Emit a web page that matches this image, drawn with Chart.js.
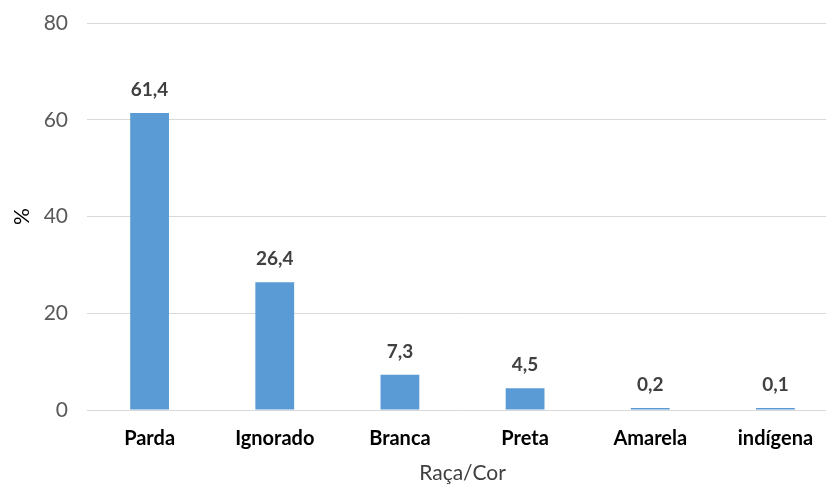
<!DOCTYPE html>
<html>
<head>
<meta charset="utf-8">
<script src="https://cdn.jsdelivr.net/npm/chart.js@4"></script>
<style>
  html, body { margin: 0; padding: 0; background: #ffffff; overflow: hidden; }
  #wrap { width: 838px; height: 486px; }
</style>
</head>
<body>
<div id="wrap"><canvas id="chart" width="838" height="486"></canvas></div>
<script>
// Distribuição por raça/cor (%)
const categories = ['Parda', 'Ignorado', 'Branca', 'Preta', 'Amarela', 'indígena'];
const percentages = [61.4, 26.4, 7.3, 4.5, 0.2, 0.1];
const yTicks = [0, 20, 40, 60, 80];

const FONT = 'Lato, "Open Sans", "Liberation Sans", sans-serif';

// Value labels above each bar, written with a decimal comma
const valueLabels = {
  id: 'valueLabels',
  afterDatasetsDraw(chart) {
    const ctx = chart.ctx;
    const meta = chart.getDatasetMeta(0);
    ctx.save();
    ctx.font = 'bold 19px ' + FONT;
    ctx.fillStyle = '#404040';
    ctx.textAlign = 'center';
    ctx.textBaseline = 'middle';
    meta.data.forEach((bar, i) => {
      const v = chart.data.datasets[0].data[i];
      ctx.fillText(v.toFixed(1).replace('.', ','), bar.x, bar.y - 23);
    });
    ctx.restore();
  }
};

new Chart(document.getElementById('chart'), {
  type: 'bar',
  data: {
    labels: categories,
    datasets: [{
      data: percentages,
      backgroundColor: '#5B9BD5',
      borderWidth: 0,
      minBarLength: 2,
      barPercentage: 0.31,
      categoryPercentage: 1.0
    }]
  },
  options: {
    responsive: false,
    animation: false,
    layout: { padding: { top: 23, left: 0, right: 0, bottom: 0 } },
    plugins: {
      legend: { display: false },
      tooltip: { enabled: false }
    },
    scales: {
      x: {
        grid: { display: false, drawTicks: false },
        border: { display: false },
        ticks: {
          color: '#000000',
          padding: 17,
          font: { family: FONT, size: 20, weight: 'bold' }
        },
        title: {
          display: true,
          text: 'Raça/Cor',
          color: '#404040',
          padding: { top: 0, bottom: 0 },
          font: { family: FONT, size: 21 }
        },
        afterFit: s => { s.height = 76; s.paddingLeft = 0; s.paddingRight = 0; }
      },
      y: {
        min: 0,
        max: 80,
        afterBuildTicks: s => { s.ticks = yTicks.map(v => ({ value: v })); },
        grid: { color: '#d9d9d9', lineWidth: 1, drawTicks: false },
        border: { display: false },
        ticks: {
          color: '#595959',
          padding: 19,
          font: { family: FONT, size: 21 }
        },
        title: {
          display: true,
          text: '%',
          color: '#000000',
          padding: { top: 10, bottom: 0 },
          font: { family: FONT, size: 21 }
        },
        afterFit: s => { s.width = 87; s.paddingTop = 0; s.paddingBottom = 0; }
      }
    }
  },
  plugins: [valueLabels]
});
</script>
</body>
</html>
